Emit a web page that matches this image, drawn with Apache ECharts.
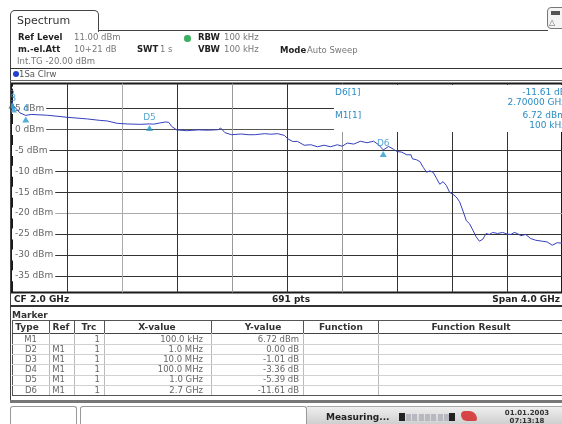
<!DOCTYPE html>
<html>
<head>
<meta charset="utf-8">
<script src="https://cdn.jsdelivr.net/npm/echarts@6/dist/echarts.min.js"></script>
<style>
html,body{margin:0;padding:0;background:#fff;width:562px;height:424px;overflow:hidden;position:relative;font-family:"DejaVu Sans",Verdana,sans-serif;}
#chart{position:absolute;left:0;top:0;width:562px;height:424px;z-index:0;}
#ov{position:absolute;left:0;top:0;width:562px;height:424px;z-index:2;pointer-events:none;}
#ov div{position:absolute;white-space:nowrap;box-sizing:border-box;}
</style>
</head>
<body>
<div id="chart"></div>
<div id="ov"></div>
<script>
// ---------------- data ----------------
const freqGHz = [0.000,0.001,0.010,0.058,0.100,0.139,0.260,0.404,0.548,0.635,0.692,0.765,0.837,0.933,1.000,1.031,1.068,1.116,1.140,1.161,1.197,1.269,1.356,1.428,1.500,1.517,1.549,1.596,1.668,1.717,1.765,1.837,1.882,1.933,1.981,2.005,2.041,2.077,2.125,2.173,2.221,2.270,2.318,2.366,2.402,2.438,2.486,2.534,2.582,2.630,2.666,2.700,2.739,2.775,2.798,2.834,2.871,2.902,2.912,2.943,2.966,2.991,3.015,3.039,3.063,3.087,3.111,3.135,3.159,3.183,3.207,3.231,3.255,3.280,3.304,3.327,3.352,3.375,3.399,3.424,3.448,3.471,3.496,3.532,3.568,3.604,3.628,3.652,3.676,3.700,3.736,3.772,3.808,3.856,3.892,3.929,3.965,4.000];
const levelDbm = [6.72,6.72,5.71,3.97,3.36,3.60,3.40,2.91,2.52,2.19,2.04,1.47,1.32,1.23,1.33,1.27,1.51,1.80,1.71,0.75,-0.10,-0.29,-0.10,-0.17,-0.05,0.36,-0.77,-1.25,-1.08,-1.25,-1.25,-1.01,-1.13,-1.01,-1.42,-2.21,-2.86,-2.86,-3.77,-3.65,-4.13,-3.77,-4.13,-3.65,-4.01,-3.25,-3.49,-2.81,-3.17,-2.81,-3.65,-4.89,-4.06,-4.74,-5.26,-5.41,-6.06,-6.06,-7.02,-7.26,-7.67,-9.06,-10.22,-9.90,-10.26,-11.66,-13.10,-12.48,-13.39,-15.07,-15.50,-16.15,-17.28,-19.52,-21.80,-22.52,-24.09,-25.65,-26.73,-26.25,-24.88,-25.12,-24.64,-24.88,-24.64,-25.05,-25.12,-24.64,-24.88,-25.41,-25.12,-26.08,-26.49,-26.73,-26.90,-27.69,-27.09,-27.20];

const markerNames = ['M1','D2','D3','D4','D5','D6'];
const markerFreqGHz = [0.0001,0.001,0.01,0.1,1.0,2.7];
const markerLevelDbm = [6.72,6.72,5.71,3.36,1.33,-4.89];
const markerPlotLabels = ['','2','3','4','D5','D6'];

const tableType = ['M1','D2','D3','D4','D5','D6'];
const tableRef = ['','M1','M1','M1','M1','M1'];
const tableTrc = ['1','1','1','1','1','1'];
const tableX = ['100.0 kHz','1.0 MHz','10.0 MHz','100.0 MHz','1.0 GHz','2.7 GHz'];
const tableY = ['6.72 dBm','0.00 dB','-1.01 dB','-3.36 dB','-5.39 dB','-11.61 dB'];
const tableHeaders = ['Type','Ref','Trc','X-value','Y-value','Function','Function Result'];

const yMin = -39, yMax = 11;
const xMin = 0, xMax = 4, xStep = 0.4;

// ---------------- chart ----------------
const chart = echarts.init(document.getElementById('chart'), null, {renderer:'canvas'});
const xGridColors = ['#333','#aaa','#333','#999','#333','#999','#333','#333','#333','#333'];
const yGridColors = ['#333','#333','#333','#aaa','#333','#333','#333','#555','#333','rgba(0,0,0,0)','rgba(0,0,0,0)'];
chart.setOption({
  animation:false,
  grid:{left:12, top:83.5, width:555, height:209, show:true, borderColor:'#1a1a1a', borderWidth:2, backgroundColor:'#fff'},
  xAxis:{type:'value', min:xMin, max:xMax, interval:xStep,
    axisLine:{show:false}, axisTick:{show:false}, axisLabel:{show:false},
    splitLine:{show:true, showMinLine:false, showMaxLine:false, lineStyle:{color:xGridColors, width:1}}},
  yAxis:{type:'value', min:yMin, max:yMax, splitNumber:10,
    axisLine:{show:false}, axisTick:{show:false},
    axisLabel:{inside:true, margin:0, showMinLabel:false, showMaxLabel:false,
      formatter:function(v){return (v % 5 === 0 && v < 10) ? (v + ' dBm') : '';},
      color:'#666', fontSize:9, fontFamily:'DejaVu Sans', backgroundColor:'#fff', padding:[1,2,1,3]},
    splitLine:{show:true, showMinLine:false, showMaxLine:false, lineStyle:{color:yGridColors, width:1}}},
  series:[
    {type:'line', data:freqGHz.map(function(f,i){return [f, levelDbm[i]];}),
      symbol:'none', showSymbol:false, lineStyle:{color:'#3540bd', width:1}, z:3, clip:true},
    {type:'scatter', data:markerFreqGHz.map(function(f,i){return [f, markerLevelDbm[i]];}),
      symbol:'triangle', symbolSize:[7,6], symbolOffset:[0,4], itemStyle:{color:'#2a98d0'}, clip:false, z:4,
      label:{show:true, position:'top', distance:3, color:'#2a90c8', fontSize:9, fontFamily:'DejaVu Sans',
        formatter:function(p){return markerPlotLabels[p.dataIndex];}}}
  ]
});

// ---------------- overlay (instrument frame, header, table) ----------------
const ov = document.getElementById('ov');
function R(x,y,w,h,css){const d=document.createElement('div');d.style.cssText='left:'+x+'px;top:'+y+'px;width:'+w+'px;height:'+h+'px;'+(css||'');ov.appendChild(d);return d;}
function T(s,x,yc,o){o=o||{};const size=o.size||9;const lh=size+3;const d=document.createElement('div');
  let css='top:'+(yc-lh/2)+'px;height:'+lh+'px;line-height:'+lh+'px;font-size:'+size+'px;color:'+(o.color||'#555')+';'+(o.bold?'font-weight:bold;':'');
  if(o.align==='right'){css+='left:'+(x-300)+'px;width:300px;text-align:right;';}
  else if(o.align==='center'){css+='left:'+(x-150)+'px;width:300px;text-align:center;';}
  else{css+='left:'+x+'px;';}
  d.style.cssText=css;d.textContent=s;ov.appendChild(d);return d;}
function HL(x1,x2,y,c,t){return R(x1,y-(t||1)/2,x2-x1,t||1,'background:'+c+';');}
function VL(x,y1,y2,c,t){return R(x-(t||1)/2,y1,t||1,y2-y1,'background:'+c+';');}

// tab
R(10,9.5,88.5,22,'border:1px solid #444;border-bottom:none;border-radius:5px 5px 0 0;background:#fff;');
T('Spectrum',17,21,{size:11,color:'#333'});
HL(98,548,30.5,'#444',1.2);
VL(10.5,30,402,'#444',1.2);
// top-right icon
R(547,7,20,22,'border:1px solid #777;border-radius:4px;background:#f4f4f4;');
R(551,11,9,4,'background:#555;');
T('\u25B3',549,22,{size:8,color:'#666'});

// header rows
const hb = {bold:true,color:'#222',size:8.5};
const hv = {color:'#777',size:8.5};
T('Ref Level',18,37.5,hb);
T('11.00 dBm',74,37.5,hv);
T('m.-el.Att',18,49.5,hb);
T('10+21 dB',74,49.5,hv);
T('SWT',137,50,hb);
T('1 s',160,50,hv);
R(184,35,6.5,6.5,'border-radius:50%;background:#3cb060;');
T('RBW',198,37.5,hb);
T('100 kHz',224,37.5,hv);
T('VBW',198,50,hb);
T('100 kHz',224,50,hv);
T('Mode',280,50.5,hb);
T('Auto Sweep',307,50.5,hv);
T('Int.TG -20.00 dBm',17,62,{size:8.5,color:'#777'});
HL(10,562,68.5,'#333',1.6);
R(12.5,71,6,6,'border-radius:50%;background:#1f3fd0;');
T('1Sa Clrw',19,74.5,{size:8.5,color:'#555'});
HL(10,562,80.5,'#666',1);

// marker info box over the plot
R(334,84.5,240,47,'background:#fff;');
const mc = '#2a8cc4';
T('D6[1]',335,92,{size:9,color:mc});
T('M1[1]',335,115,{size:9,color:mc});
T('-11.61 dB',566,91.5,{size:9,color:mc,align:'right'});
T('2.70000 GHz',566,102,{size:9,color:mc,align:'right'});
T('6.72 dBm',566,114.5,{size:9,color:mc,align:'right'});
T('100 kHz',566,125,{size:9,color:mc,align:'right'});

// bottom info row of the diagram
T('CF 2.0 GHz',14,299,{bold:true,color:'#222'});
T('691 pts',291,299,{bold:true,color:'#222',align:'center'});
T('Span 4.0 GHz',560,299,{bold:true,color:'#222',align:'right'});
HL(10,562,305.5,'#333',2);

// marker table
T('Marker',12,314.5,{bold:true,color:'#333'});
const colEdges = [12,49,74,104,211,303,378,570];
const headerCenters = [27,61,89,157,263,341,471];
const bodyRight = [37,65,100,203,299];
R(12,320,560,75.5,'border:1px solid #555;border-right:none;background:#fff;');
HL(12,562,333,'#444',1);
for(let i=1;i<colEdges.length-1;i++){VL(colEdges[i],320,333,'#555',1);VL(colEdges[i],333,395,'#bbb',1);}
for(let i=0;i<tableHeaders.length;i++){T(tableHeaders[i],headerCenters[i],327,{bold:true,color:'#333',align:'center'});}
const rowH = 10.2;
for(let r=0;r<tableType.length;r++){
  const yc = 339.3 + r*rowH;
  if(r>0){HL(12,562,yc-rowH/2,'#d0d0d0',1);}
  const vals=[tableType[r],tableRef[r],tableTrc[r],tableX[r],tableY[r]];
  for(let c=0;c<vals.length;c++){T(vals[c],bodyRight[c],yc,{color:'#666',align:'right',size:8.5});}
}
HL(10,562,401.5,'#777',3);

// status bar
R(10,406,67,18,'border:1px solid #999;border-bottom:none;border-radius:3px 3px 0 0;background:#fff;');
R(80,406,227,18,'border:1px solid #999;border-bottom:none;border-radius:3px 3px 0 0;background:#fff;');
R(307,406,260,18,'background:linear-gradient(#eeeeee,#cfcfcf);border-top:1px solid #aaa;');
T('Measuring...',326,417,{bold:true,color:'#222',size:9});
R(399,413,6,8,'background:#222;');
for(let k=0;k<7;k++){R(406+k*6.3,413.5,5,7,'background:#b8b8c0;');}
R(449,413,6,8,'background:#222;');
R(461,411,16,10,'background:#d42a2a;border-radius:4px 8px 2px 6px;opacity:0.85;');
T('01.01.2003',527,412.5,{bold:true,color:'#333',size:7,align:'center'});
T('07:13:18',527,420.5,{bold:true,color:'#333',size:7,align:'center'});
</script>
</body>
</html>
